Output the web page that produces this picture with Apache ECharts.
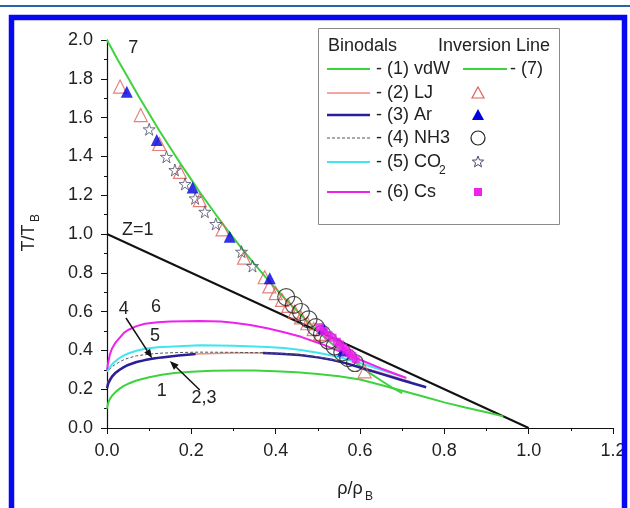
<!DOCTYPE html>
<html>
<head>
<meta charset="utf-8">
<script src="https://cdn.jsdelivr.net/npm/echarts@6/dist/echarts.min.js"></script>
<style>
html, body { margin: 0; padding: 0; background: #fff; }
#chart { width: 630px; height: 508px; }
</style>
</head>
<body>
<div id="chart"></div>
<script>
// values, x = rho/rho_B, y = T/T_B
var xTicks = [0, 0.2, 0.4, 0.6, 0.8, 1.0, 1.2]
var yTicks = [0, 0.2, 0.4, 0.6, 0.8, 1.0, 1.2, 1.4, 1.6, 1.8, 2.0]

var zenoLine = [[0, 1.0], [1.0, 0]]
var inversionVdw = [[0, 2.0], [0.025, 1.9], [0.05, 1.805], [0.075, 1.71], [0.1, 1.62], [0.125, 1.53],
  [0.15, 1.445], [0.175, 1.36], [0.2, 1.28], [0.225, 1.2], [0.25, 1.125], [0.275, 1.05],
  [0.3, 0.98], [0.325, 0.91], [0.35, 0.845], [0.375, 0.78], [0.4, 0.72], [0.425, 0.66],
  [0.45, 0.605], [0.475, 0.55], [0.5, 0.5], [0.525, 0.45], [0.55, 0.405], [0.575, 0.36],
  [0.6, 0.32], [0.625, 0.28], [0.65, 0.245], [0.675, 0.21], [0.7, 0.18]]

var binodalVdw = [[0, 0.10], [0.003, 0.13], [0.007, 0.15], [0.012, 0.166], [0.02, 0.185],
  [0.03, 0.203], [0.04, 0.217], [0.05, 0.228], [0.07, 0.245], [0.1, 0.262], [0.13, 0.274],
  [0.16, 0.283], [0.2, 0.29], [0.25, 0.295], [0.3, 0.297], [0.35, 0.296], [0.4, 0.293],
  [0.45, 0.287], [0.5, 0.278], [0.55, 0.267], [0.6, 0.25], [0.65, 0.222], [0.7, 0.192],
  [0.75, 0.162], [0.8, 0.132], [0.85, 0.106], [0.9, 0.081], [0.94, 0.06]]
var binodalLJ = [[0, 0.22], [0.004, 0.245], [0.01, 0.265], [0.02, 0.287], [0.03, 0.302],
  [0.045, 0.32], [0.06, 0.333], [0.08, 0.345], [0.1, 0.354], [0.13, 0.364], [0.16, 0.372],
  [0.21, 0.382], [0.3, 0.387], [0.37, 0.386], [0.42, 0.382], [0.46, 0.376], [0.5, 0.364],
  [0.55, 0.343], [0.6, 0.315], [0.65, 0.285], [0.72, 0.238]]
var binodalArGas = [[0, 0.205], [0.003, 0.23], [0.007, 0.247], [0.012, 0.265], [0.019, 0.282],
  [0.03, 0.3], [0.04, 0.314], [0.05, 0.325], [0.07, 0.34], [0.09, 0.35], [0.11, 0.358],
  [0.13, 0.364], [0.17, 0.374], [0.21, 0.381]]
var binodalArLiq = [[0.37, 0.386], [0.41, 0.383], [0.457, 0.376], [0.5, 0.364], [0.536, 0.35],
  [0.568, 0.333], [0.6, 0.312], [0.65, 0.279], [0.7, 0.246], [0.757, 0.21]]
var binodalNH3 = [[0.005, 0.30], [0.01, 0.312], [0.018, 0.325], [0.027, 0.337], [0.038, 0.35],
  [0.05, 0.36], [0.07, 0.372], [0.1, 0.381], [0.13, 0.386], [0.17, 0.389], [0.22, 0.391],
  [0.3, 0.39], [0.37, 0.388], [0.42, 0.384], [0.46, 0.378], [0.5, 0.367], [0.55, 0.345]]
var binodalCO2 = [[0, 0.29], [0.004, 0.305], [0.008, 0.318], [0.015, 0.335], [0.027, 0.357],
  [0.038, 0.372], [0.05, 0.384], [0.07, 0.398], [0.09, 0.408], [0.12, 0.416], [0.17, 0.422],
  [0.22, 0.426], [0.3, 0.424], [0.38, 0.418], [0.42, 0.412], [0.46, 0.402], [0.5, 0.388],
  [0.55, 0.366], [0.6, 0.335], [0.65, 0.30], [0.7, 0.265]]
var binodalCs = [[0, 0.30], [0.003, 0.34], [0.007, 0.38], [0.012, 0.41], [0.02, 0.44],
  [0.03, 0.465], [0.04, 0.49], [0.05, 0.505], [0.07, 0.525], [0.09, 0.537], [0.12, 0.545],
  [0.15, 0.549], [0.22, 0.552], [0.27, 0.549], [0.3, 0.543], [0.34, 0.531], [0.38, 0.514],
  [0.42, 0.494], [0.46, 0.47], [0.51, 0.432], [0.55, 0.396], [0.6, 0.352], [0.65, 0.307],
  [0.71, 0.258]]

var invLJ = [[0.031, 1.76], [0.08, 1.613], [0.124, 1.464], [0.173, 1.32], [0.22, 1.175],
  [0.274, 1.024], [0.325, 0.878], [0.374, 0.777], [0.385, 0.73], [0.4, 0.695], [0.415, 0.66],
  [0.43, 0.63], [0.445, 0.6], [0.46, 0.57], [0.475, 0.54], [0.49, 0.51], [0.505, 0.485],
  [0.611, 0.292]]
var invAr = [[0.047, 1.733], [0.118, 1.485], [0.203, 1.24], [0.291, 0.986], [0.386, 0.772],
  [0.513, 0.514], [0.56, 0.40]]
var invNH3 = [[0.425, 0.675], [0.443, 0.635], [0.46, 0.598], [0.478, 0.56], [0.495, 0.52],
  [0.51, 0.485], [0.525, 0.45], [0.54, 0.42], [0.558, 0.39], [0.572, 0.36], [0.588, 0.335]]
var invCO2 = [[0.10, 1.54], [0.141, 1.398], [0.161, 1.33], [0.185, 1.258], [0.209, 1.184],
  [0.232, 1.115], [0.258, 1.052], [0.319, 0.909], [0.345, 0.835]]
var invCs = [[0.505, 0.52], [0.515, 0.5], [0.525, 0.48], [0.535, 0.465], [0.545, 0.445],
  [0.553, 0.43], [0.56, 0.415], [0.567, 0.4], [0.575, 0.385], [0.582, 0.37], [0.59, 0.355]]

var FONT = '"Liberation Sans", Arial, sans-serif'
var GREEN = '#3fd23f'
var SALMON = '#f08a80'
var NAVY = '#2a1f9a'
var BLUE = '#0000e0'
var CYAN = '#3ee6ee'
var MAGENTA = '#ee22ee'
var STAR = 'path://M50,0 L61,35 L98,35 L68,57 L79,91 L50,70 L21,91 L32,57 L2,35 L39,35 Z'

function axis(min, max) {
  return {
    type: 'value', min: min, max: max, interval: 0.2,
    axisLine: { onZero: false, lineStyle: { color: '#111', width: 1.2 } },
    axisTick: { length: 6, lineStyle: { color: '#111' } },
    minorTick: { show: true, splitNumber: 2, length: 3, lineStyle: { color: '#111' } },
    splitLine: { show: false },
    axisLabel: { fontSize: 18, color: '#222', fontFamily: FONT, margin: 14,
      formatter: function (v) { return v.toFixed(1) } }
  }
}

function line(data, color, width, extra) {
  var s = { type: 'line', data: data, symbol: 'none', smooth: false,
    lineStyle: { color: color, width: width }, z: 3, silent: true }
  return Object.assign(s, extra || {})
}

function dots(data, symbol, size, fill, stroke, bw) {
  return { type: 'scatter', data: data, symbol: symbol, symbolSize: size, z: 5, silent: true,
    itemStyle: { color: fill, borderColor: stroke, borderWidth: bw } }
}

var chart = echarts.init(document.getElementById('chart'))
chart.setOption({
  animation: false,
  grid: { left: 107, top: 40, width: 506, height: 388 },
  xAxis: axis(0, 1.2),
  yAxis: axis(0, 2.0),
  series: [
    line(zenoLine, '#111', 2),
    line(inversionVdw, GREEN, 2),
    line(binodalVdw, GREEN, 2),
    line(binodalLJ, SALMON, 1.5),
    line(binodalArGas, NAVY, 2.5),
    line(binodalArLiq, NAVY, 2.5),
    line(binodalNH3, '#555', 1, { lineStyle: { color: '#555', width: 1, type: [3, 2] } }),
    line(binodalCO2, CYAN, 2),
    line(binodalCs, MAGENTA, 2),
    dots(invLJ, 'triangle', 13, 'rgba(255,255,255,0)', '#e0605a', 1.2),
    dots(invCO2, STAR, 12, 'rgba(255,255,255,0)', '#4a4a6a', 1),
    dots(invNH3, 'circle', 17, 'rgba(255,255,255,0)', '#222', 1.2),
    dots(invAr, 'triangle', 12, BLUE, BLUE, 0),
    dots(invCs, 'rect', 8, MAGENTA, MAGENTA, 0)
  ]
})

function px(p) { return chart.convertToPixel({ gridIndex: 0 }, p) }
function label(p, s) {
  var q = px(p)
  return { type: 'text', x: q[0], y: q[1], z: 20,
    style: { text: s, fontSize: 18, fontFamily: FONT, fill: '#222', align: 'center', verticalAlign: 'middle' } }
}
function arrow(from, to) {
  var a = px(from), b = px(to)
  var ang = Math.atan2(b[1] - a[1], b[0] - a[0])
  var L = 9, W = 3.5
  var bx = b[0] - L * Math.cos(ang), by = b[1] - L * Math.sin(ang)
  return [
    { type: 'line', z: 20, shape: { x1: a[0], y1: a[1], x2: bx, y2: by }, style: { stroke: '#111', lineWidth: 1.5 } },
    { type: 'polygon', z: 20, shape: { points: [b, [bx - W * Math.sin(ang), by + W * Math.cos(ang)], [bx + W * Math.sin(ang), by - W * Math.cos(ang)]] },
      style: { fill: '#111' } }
  ]
}

function starPts(cx, cy, r) {
  var pts = []
  for (var i = 0; i < 10; i++) {
    var rr = i % 2 ? r * 0.42 : r
    var a = -Math.PI / 2 + i * Math.PI / 5
    pts.push([cx + rr * Math.cos(a), cy + rr * Math.sin(a)])
  }
  return pts
}

var legendRows = [
  { y: 69, color: GREEN, width: 2, text: '- (1) vdW' },
  { y: 93, color: SALMON, width: 1.5, text: '- (2) LJ' },
  { y: 115, color: NAVY, width: 2.5, text: '- (3) Ar' },
  { y: 138, color: '#555', width: 1, dash: [3, 2], text: '- (4) NH3' },
  { y: 162, color: CYAN, width: 2, text: '- (5) CO' },
  { y: 192, color: MAGENTA, width: 2, text: '- (6) Cs' }
]
var legendEls = [
  { type: 'rect', z: 30, shape: { x: 318.5, y: 28.5, width: 241, height: 196 }, style: { fill: '#fff', stroke: '#8a8a8a', lineWidth: 1 } },
  { type: 'text', z: 31, x: 328, y: 46, style: { text: 'Binodals', fontSize: 18, fontFamily: FONT, fill: '#222', verticalAlign: 'middle' } },
  { type: 'text', z: 31, x: 438, y: 46, style: { text: 'Inversion Line', fontSize: 18, fontFamily: FONT, fill: '#222', verticalAlign: 'middle' } },
  { type: 'line', z: 31, shape: { x1: 463, y1: 69, x2: 507, y2: 69 }, style: { stroke: GREEN, lineWidth: 2 } },
  { type: 'text', z: 31, x: 510, y: 69, style: { text: '- (7)', fontSize: 18, fontFamily: FONT, fill: '#222', verticalAlign: 'middle' } },
  { type: 'text', z: 31, x: 439, y: 171, style: { text: '2', fontSize: 12, fontFamily: FONT, fill: '#222', verticalAlign: 'middle' } },
  { type: 'polygon', z: 31, shape: { points: [[478, 87], [484, 98], [472, 98]] }, style: { fill: '#fff', stroke: '#e0605a', lineWidth: 1.2 } },
  { type: 'polygon', z: 31, shape: { points: [[478, 109], [484, 120], [472, 120]] }, style: { fill: BLUE } },
  { type: 'circle', z: 31, shape: { cx: 478, cy: 138, r: 7 }, style: { fill: '#fff', stroke: '#222', lineWidth: 1.2 } },
  { type: 'polygon', z: 31, shape: { points: starPts(478, 162, 6) }, style: { fill: '#fff', stroke: '#4a4a6a', lineWidth: 1 } },
  { type: 'rect', z: 31, shape: { x: 474, y: 188, width: 8, height: 8 }, style: { fill: MAGENTA } }
]
legendRows.forEach(function (r) {
  legendEls.push({ type: 'line', z: 31, shape: { x1: 327, y1: r.y, x2: 370, y2: r.y },
    style: { stroke: r.color, lineWidth: r.width, lineDash: r.dash || null } })
  legendEls.push({ type: 'text', z: 31, x: 376, y: r.y,
    style: { text: r.text, fontSize: 18, fontFamily: FONT, fill: '#222', verticalAlign: 'middle' } })
})

var notes = [
  label([0.062, 1.96], '7'),
  label([0.073, 1.02], 'Z=1'),
  label([0.116, 0.624], '6'),
  label([0.04, 0.613], '4'),
  label([0.114, 0.474], '5'),
  label([0.13, 0.19], '1'),
  label([0.23, 0.155], '2,3')
].concat(arrow([0.045, 0.567], [0.107, 0.36]), arrow([0.22, 0.196], [0.149, 0.345]))

var titles = [
  { type: 'text', z: 20, x: 29, y: 238, rotation: Math.PI / 2,
    style: { text: 'T/T', fontSize: 18, fontFamily: FONT, fill: '#222', align: 'center', verticalAlign: 'middle' } },
  { type: 'text', z: 20, x: 36, y: 218, rotation: Math.PI / 2,
    style: { text: 'B', fontSize: 12, fontFamily: FONT, fill: '#222', align: 'center', verticalAlign: 'middle' } },
  { type: 'text', z: 20, x: 350, y: 489,
    style: { text: 'ρ/ρ', fontSize: 18, fontFamily: FONT, fill: '#222', align: 'center', verticalAlign: 'middle' } },
  { type: 'text', z: 20, x: 369, y: 497,
    style: { text: 'B', fontSize: 12, fontFamily: FONT, fill: '#222', align: 'center', verticalAlign: 'middle' } }
]

var frame = [
  { type: 'line', z: 50, shape: { x1: 0, y1: 6, x2: 630, y2: 6 }, style: { stroke: '#2a64a8', lineWidth: 2 } },
  { type: 'rect', z: 50, shape: { x: 11.5, y: 17.5, width: 613, height: 520 }, style: { fill: 'none', stroke: '#0808f0', lineWidth: 5.5 } }
]

chart.setOption({ graphic: notes.concat(legendEls, titles, frame) })
</script>
</body>
</html>
